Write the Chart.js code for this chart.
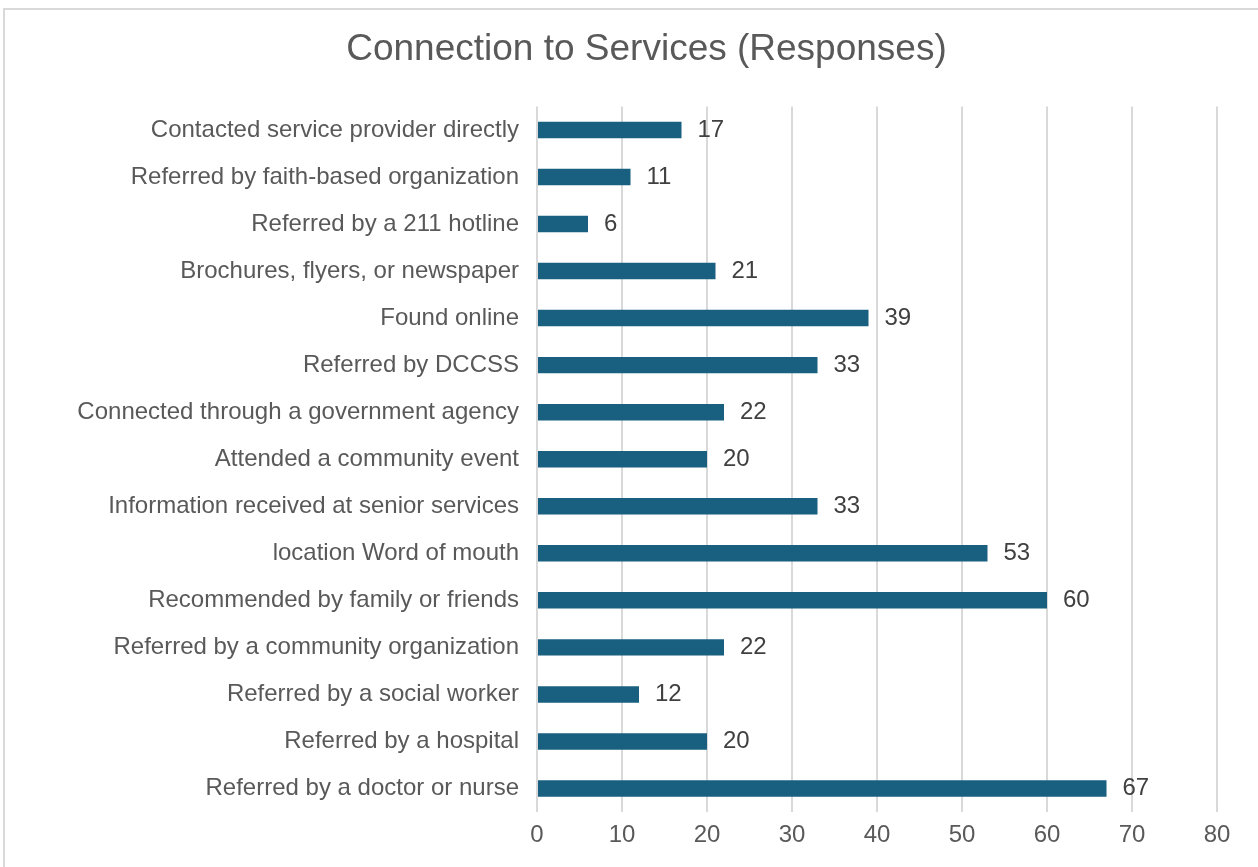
<!DOCTYPE html>
<html>
<head>
<meta charset="utf-8">
<script src="https://cdn.jsdelivr.net/npm/chart.js@4"></script>
<style>
  html, body { margin: 0; padding: 0; background: #fff; overflow: hidden; }
  #wrap { width: 1258px; height: 867px; position: relative; overflow: hidden; }
</style>
</head>
<body>
<div id="wrap"><canvas id="myChart" width="1290" height="867"></canvas></div>
<script>
const titleText = 'Connection to Services (Responses)'

const labels = [
  'Contacted service provider directly',
  'Referred by faith-based organization',
  'Referred by a 211 hotline',
  'Brochures, flyers, or newspaper',
  'Found online',
  'Referred by DCCSS',
  'Connected through a government agency',
  'Attended a community event',
  'Information received at senior services',
  'location Word of mouth',
  'Recommended by family or friends',
  'Referred by a community organization',
  'Referred by a social worker',
  'Referred by a hospital',
  'Referred by a doctor or nurse',
]

const responses = [17, 11, 6, 21, 39, 33, 22, 20, 33, 53, 60, 22, 12, 20, 67]

const xMin = 0
const xMax = 80
const xStep = 10

const fontFamily = '"Liberation Sans", Arial, sans-serif'

// chart frame + value labels next to each bar
const frameAndLabels = {
  id: 'frameAndLabels',
  beforeDraw(chart) {
    const c = chart.ctx
    c.save()
    c.strokeStyle = '#d9d9d9'
    c.lineWidth = 2
    c.strokeRect(4, 9, 1300, 880)
    c.restore()
  },
  afterDatasetsDraw(chart) {
    const c = chart.ctx
    const meta = chart.getDatasetMeta(0)
    c.save()
    c.font = '24px ' + fontFamily
    c.fillStyle = '#404040'
    c.textAlign = 'left'
    c.textBaseline = 'middle'
    meta.data.forEach((bar, i) => {
      c.fillText(String(responses[i]), bar.x + 16, bar.y)
    })
    c.restore()
  }
}

const ctx = document.getElementById('myChart')

const myChart = new Chart(ctx, {
  type: 'bar',
  data: {
    labels,
    datasets: [{
      data: responses,
      backgroundColor: '#185f80',
      borderWidth: 0,
      barPercentage: 0.7,
      categoryPercentage: 0.5
    }]
  },
  options: {
    indexAxis: 'y',
    responsive: false,
    animation: false,
    layout: { padding: { left: 3, right: 0, top: 0, bottom: 0 } },
    plugins: {
      legend: { display: false },
      tooltip: { enabled: false },
      title: {
        display: true,
        text: titleText,
        color: '#595959',
        font: { family: fontFamily, size: 37, weight: 'normal', lineHeight: 1.2 },
        padding: { top: 28, bottom: 34 }
      }
    },
    scales: {
      x: {
        min: xMin,
        max: xMax,
        ticks: {
          stepSize: xStep,
          color: '#595959',
          font: { family: fontFamily, size: 24 },
          padding: 9
        },
        grid: { color: '#d9d9d9', lineWidth: 2, drawTicks: false },
        border: { display: false },
        afterFit(scale) { scale.height = 55 }
      },
      y: {
        ticks: {
          color: '#595959',
          font: { family: fontFamily, size: 24 },
          padding: 18
        },
        grid: { display: false, drawTicks: false },
        border: { display: false },
        afterFit(scale) { scale.width = 534 }
      },
      // empty right-hand axis, only reserves the space right of the plot
      yRight: {
        position: 'right',
        ticks: { display: false },
        grid: { display: false, drawTicks: false },
        border: { display: false },
        afterFit(scale) { scale.width = 73 }
      }
    }
  },
  plugins: [frameAndLabels]
})
</script>
</body>
</html>
